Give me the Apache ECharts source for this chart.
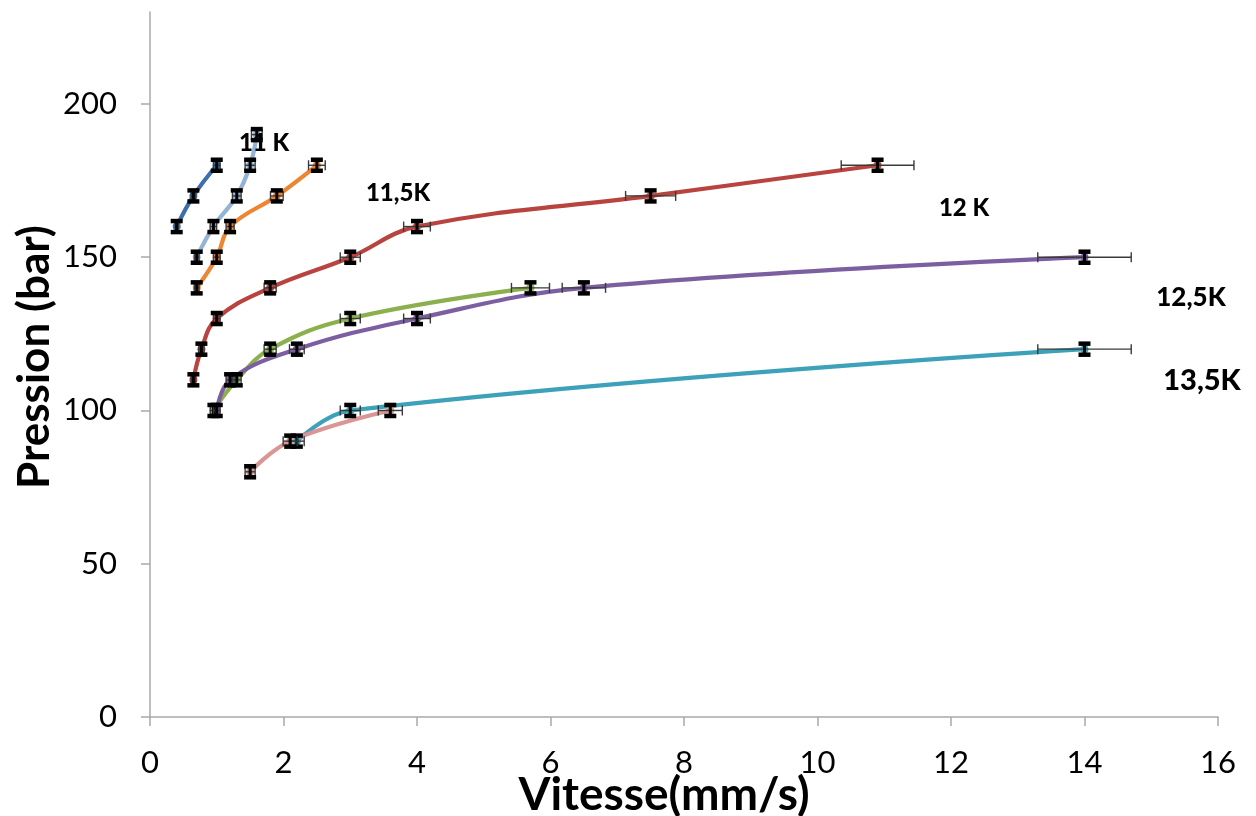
<!DOCTYPE html>
<html>
<head>
<meta charset="utf-8">
<script src="https://cdn.jsdelivr.net/npm/echarts@6/dist/echarts.min.js"></script>
<style>
html,body{margin:0;padding:0;background:#fff;}
#c{width:1256px;height:816px;}
</style>
</head>
<body>
<div id="c"></div>
<script>
// ---- data (x = Vitesse mm/s, y = Pression bar) ----
const names = ['s1', 's2', 's3', 's4', 's5', 's6', 's7', 's8'];
const x1 = [0.4, 0.65, 1.0];
const y1 = [160, 170, 180];
const x2 = [0.7, 0.95, 1.3, 1.5, 1.6];
const y2 = [150, 160, 170, 180, 190];
const x3 = [0.7, 1.0, 1.2, 1.9, 2.5];
const y3 = [140, 150, 160, 170, 180];
const x4 = [0.65, 0.77, 1.0, 1.8, 3.0, 4.0, 7.5, 10.9];
const y4 = [110, 120, 130, 140, 150, 160, 170, 180];
const x5 = [0.95, 1.3, 1.8, 3.0, 5.7];
const y5 = [100, 110, 120, 130, 140];
const x6 = [1.0, 1.2, 2.2, 4.0, 6.5, 14.0];
const y6 = [100, 110, 120, 130, 140, 150];
const x7 = [2.2, 3.0, 14.0];
const y7 = [90, 100, 120];
const x8 = [1.5, 2.1, 3.6];
const y8 = [80, 90, 100];
const xTicks = [0, 2, 4, 6, 8, 10, 12, 14, 16];
const yTicks = [0, 50, 100, 150, 200];
const annotations = ['11 K', '11,5K', '12 K', '12,5K', '13,5K'];
const X_ERR_FRAC = 0.05;  // horizontal error bars: 5 % of speed
const Y_ERR = 1.8;        // vertical error bars: +/- bar

const xs = [x1, x2, x3, x4, x5, x6, x7, x8];
const ys = [y1, y2, y3, y4, y5, y6, y7, y8];
const colors = ['#3F6FAB', '#95B3D7', '#EC8633', '#B8433F', '#8CB04E', '#7B5FA0', '#3DA1B9', '#D99694'];

const FONT = 'Lato';

const series = [];
xs.forEach((xa, i) => {
  series.push({
    name: names[i],
    type: 'line',
    smooth: 0.4,
    data: xa.map((v, j) => [v, ys[i][j]]),
    symbol: 'circle',
    symbolSize: 8,
    itemStyle: { color: colors[i] },
    lineStyle: { color: colors[i], width: 4.2 },
    z: 2
  });
});
xs.forEach((xa, i) => {
  series.push({
    type: 'custom',
    z: 3,
    data: xa.map((v, j) => [v, ys[i][j]]),
    renderItem: function (params, api) {
      const x = api.value(0), y = api.value(1);
      const xe = x * X_ERR_FRAC;
      const pL = api.coord([x - xe, y]);
      const pR = api.coord([x + xe, y]);
      const pT = api.coord([x, y + Y_ERR]);
      const pB = api.coord([x, y - Y_ERR]);
      const capH = 5, capW = 6;
      const thin = { stroke: '#3a3a3a', lineWidth: 1.4 };
      const thick = { stroke: '#000', lineWidth: 4.5 };
      return {
        type: 'group',
        children: [
          { type: 'line', shape: { x1: pL[0], y1: pL[1], x2: pR[0], y2: pR[1] }, style: thin },
          { type: 'line', shape: { x1: pL[0], y1: pL[1] - capH, x2: pL[0], y2: pL[1] + capH }, style: thin },
          { type: 'line', shape: { x1: pR[0], y1: pR[1] - capH, x2: pR[0], y2: pR[1] + capH }, style: thin },
          { type: 'line', shape: { x1: pT[0], y1: pT[1], x2: pB[0], y2: pB[1] }, style: { stroke: '#000', lineWidth: 3 } },
          { type: 'line', shape: { x1: pT[0] - capW, y1: pT[1], x2: pT[0] + capW, y2: pT[1] }, style: thick },
          { type: 'line', shape: { x1: pB[0] - capW, y1: pB[1], x2: pB[0] + capW, y2: pB[1] }, style: thick }
        ]
      };
    }
  });
});

const labelPos = [[264, 143], [398, 193], [964, 208], [1191, 298], [1202, 381]];
const labelSize = [24, 24, 24, 26, 29];
const graphics = annotations.map((t, i) => ({
  type: 'text',
  x: labelPos[i][0], y: labelPos[i][1],
  style: { text: t, font: '900 ' + labelSize[i] + 'px ' + FONT, fill: '#000', textAlign: 'center', textVerticalAlign: 'middle' },
  z: 10
}));
graphics.push({
  type: 'text', x: 664, y: 795,
  style: { text: 'Vitesse(mm/s)', font: 'bold 46px ' + FONT, fill: '#000', textAlign: 'center', textVerticalAlign: 'middle' }
});
graphics.push({
  type: 'text', x: 35, y: 357, rotation: Math.PI / 2,
  style: { text: 'Pression (bar)', font: 'bold 44px ' + FONT, fill: '#000', textAlign: 'center', textVerticalAlign: 'middle' }
});

const axisColor = '#A9A9A9';
const option = {
  animation: false,
  backgroundColor: '#fff',
  grid: { left: 150, right: 38, top: 12, bottom: 99, containLabel: false },
  xAxis: {
    type: 'value', min: 0, max: 16, interval: 2,
    axisLine: { show: true, onZero: false, lineStyle: { color: axisColor, width: 1.5 } },
    axisTick: { show: true, length: 9, lineStyle: { color: axisColor, width: 1.5 } },
    splitLine: { show: false },
    axisLabel: { color: '#000', fontFamily: FONT, fontSize: 31, margin: 30, customValues: xTicks }
  },
  yAxis: {
    type: 'value', min: 0, max: 230, interval: 50,
    axisLine: { show: true, onZero: false, lineStyle: { color: axisColor, width: 1.5 } },
    axisTick: { show: true, length: 9, lineStyle: { color: axisColor, width: 1.5 }, customValues: yTicks },
    splitLine: { show: false },
    axisLabel: { color: '#000', fontFamily: FONT, fontSize: 31, margin: 33, customValues: yTicks }
  },
  graphic: graphics,
  series: series
};

const chart = echarts.init(document.getElementById('c'), null, { renderer: 'canvas' });
chart.setOption(option);
</script>
</body>
</html>
